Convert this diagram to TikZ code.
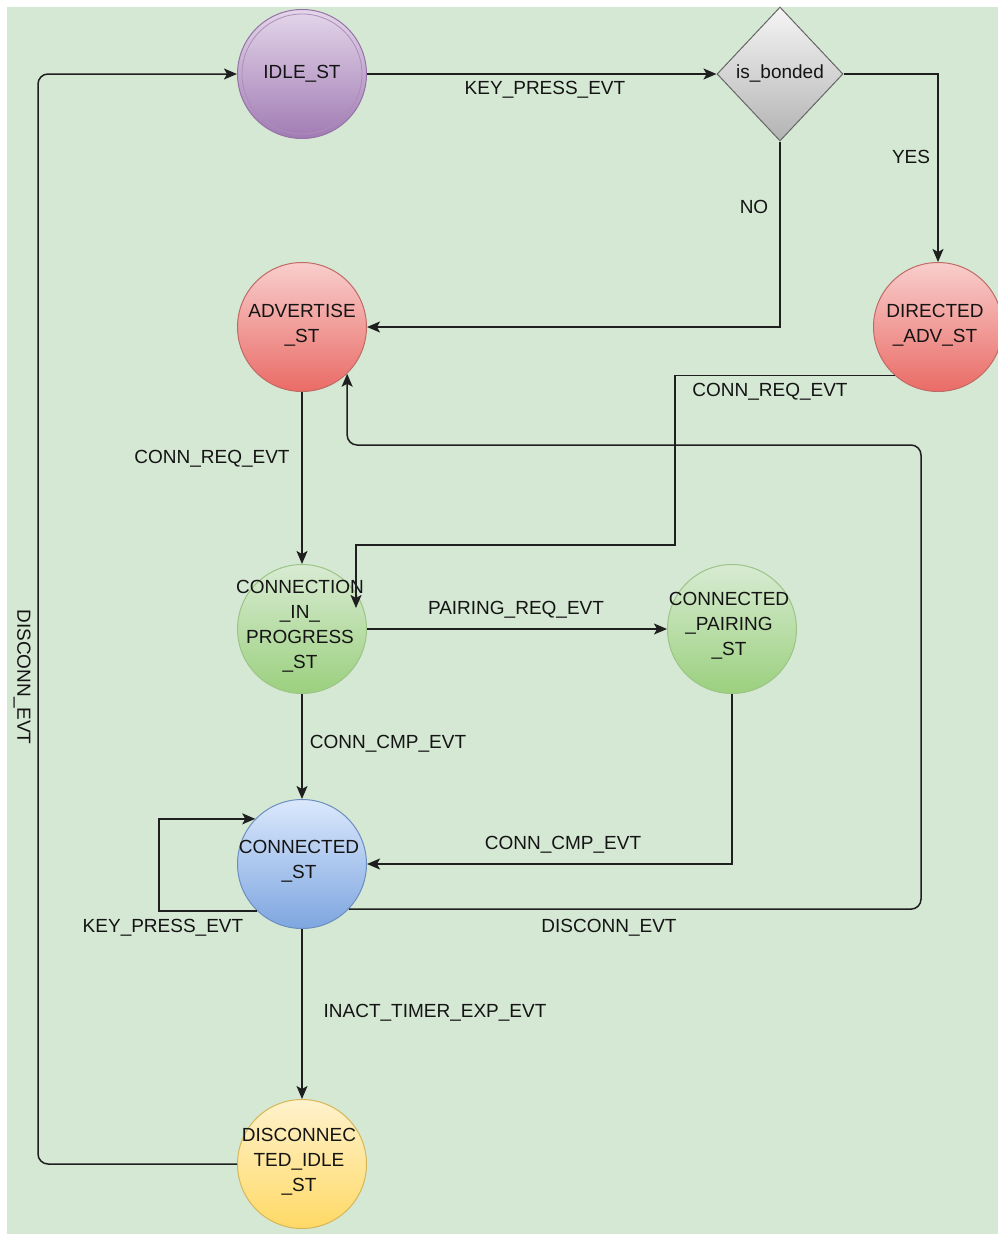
\documentclass[tikz,border=0pt]{standalone}
\usepackage{fontspec}
\setmainfont{Liberation Sans}
\usetikzlibrary{arrows.meta,shapes.geometric,calc}
\definecolor{bg}{HTML}{D5E8D4}
\definecolor{txtc}{HTML}{141414}
\definecolor{purT}{HTML}{E4D6EA}
\definecolor{purB}{HTML}{A17BB4}
\definecolor{purS}{HTML}{9673A6}
\definecolor{redT}{HTML}{F8CECC}
\definecolor{redB}{HTML}{EA6B66}
\definecolor{redS}{HTML}{C06A66}
\definecolor{grnT}{HTML}{D8EBD2}
\definecolor{grnB}{HTML}{9BD07E}
\definecolor{grnS}{HTML}{9CC487}
\definecolor{bluT}{HTML}{DAE8FC}
\definecolor{bluB}{HTML}{7EA6E0}
\definecolor{bluS}{HTML}{6C8EBF}
\definecolor{yelT}{HTML}{FFF2CC}
\definecolor{yelB}{HTML}{FFD966}
\definecolor{yelS}{HTML}{D6B656}
\definecolor{gryT}{HTML}{F5F5F5}
\definecolor{gryB}{HTML}{B3B3B3}
\definecolor{gryS}{HTML}{666666}
\begin{document}
\begin{tikzpicture}[x=1pt,y=-1pt,
  st/.style={circle,draw,line width=1pt,minimum size=129pt,inner sep=0pt,shading=axis},
  purst/.style={st,top color=purT,bottom color=purB,draw=purS},
  redst/.style={st,top color=redT,bottom color=redB,draw=redS},
  grnst/.style={st,top color=grnT,bottom color=grnB,draw=grnS},
  blust/.style={st,top color=bluT,bottom color=bluB,draw=bluS},
  yelst/.style={st,top color=yelT,bottom color=yelB,draw=yelS},
  sttext/.style={align=center,text=txtc,inner sep=0pt,font=\fontsize{19}{25}\selectfont},
  lbl/.style={text=txtc,inner sep=0pt,font=\fontsize{19}{23}\selectfont},
  edge/.style={line width=1.5pt,draw=black!88,-{Stealth[length=13pt,width=11pt,inset=3pt]}}
]
\useasboundingbox (0,0) rectangle (998,1234);
\fill[white] (0,0) rectangle (998,1234);
\fill[bg] (7,7) rectangle (998,1234);

% states
\node[purst] (idle) at (302,74) {};
\draw[purS!80,line width=0.8pt] (idle.center) circle (60pt);
\node[sttext] (idlet) at (idle.center) {IDLE\_ST};

\node[diamond,draw=gryS,line width=1pt,shading=axis,top color=gryT,bottom color=gryB,
      minimum width=126pt,minimum height=134pt,inner sep=0pt] (dia) at (780,74) {};
\node[sttext] (diat) at (dia.center) {is\_bonded};

\node[redst] (adv) at (302,327) {};
\node[sttext] (advt) at (302,325) {ADVERTISE\\\_ST};

\node[redst] (dir) at (938,327) {};
\node[sttext] (dirt) at (935,325) {DIRECTED\\\_ADV\_ST};

\node[grnst] (cip) at (302,629) {};
\node[sttext] (cipt) at (300,626) {CONNECTION\\\_IN\_\\PROGRESS\\\_ST};

\node[grnst] (pair) at (732,629) {};
\node[sttext] (pairt) at (729,626) {CONNECTED\\\_PAIRING\\\_ST};

\node[blust] (con) at (302,864) {};
\node[sttext] (cont) at (299,861) {CONNECTED\\\_ST};

\node[yelst] (disc) at (302,1164) {};
\node[sttext] (disct) at (299,1162) {DISCONNEC\\TED\_IDLE\\\_ST};

\coordinate (cipin) at (356,608);

% connectors
\draw[edge,rounded corners=10pt] (disc.west) -| (38,74) -- (idle.west);
\draw[edge] (idle.east) -- (dia.west);
\draw[edge] (dia.east) -| (dir.north);
\draw[edge] (dia.south) |- (adv.east);
\draw[edge] (adv.south) -- (cip.north);
\draw[edge] (dir.228) -| (675,545) -| (cipin);
\draw[edge] (cip.east) -- (pair.west);
\draw[edge] (cip.south) -- (con.north);
\draw[edge] (pair.south) |- (con.east);
\draw[edge] (con.226) -- ++(-98,0) |- (con.136);
\draw[edge,rounded corners=10pt] (con.316) -| (921,445) -| (adv.314);
\draw[edge] (con.south) -- (disc.north);

% labels
\node[lbl,rotate=-90] (l1) at (22,677) {DISCONN\_EVT};
\node[lbl] (l2) at (545,90) {KEY\_PRESS\_EVT};
\node[lbl] (l3) at (911,157) {YES};
\node[lbl] (l4) at (754,207) {NO};
\node[lbl] (l5) at (212,459) {CONN\_REQ\_EVT};
\node[lbl] (l6) at (770,392) {CONN\_REQ\_EVT};
\node[lbl] (l7) at (516,610) {PAIRING\_REQ\_EVT};
\node[lbl] (l8) at (388,744) {CONN\_CMP\_EVT};
\node[lbl] (l9) at (563,845) {CONN\_CMP\_EVT};
\node[lbl] (l10) at (163,928) {KEY\_PRESS\_EVT};
\node[lbl] (l11) at (609,928) {DISCONN\_EVT};
\node[lbl] (l12) at (435,1013) {INACT\_TIMER\_EXP\_EVT};
\end{tikzpicture}
\end{document}
